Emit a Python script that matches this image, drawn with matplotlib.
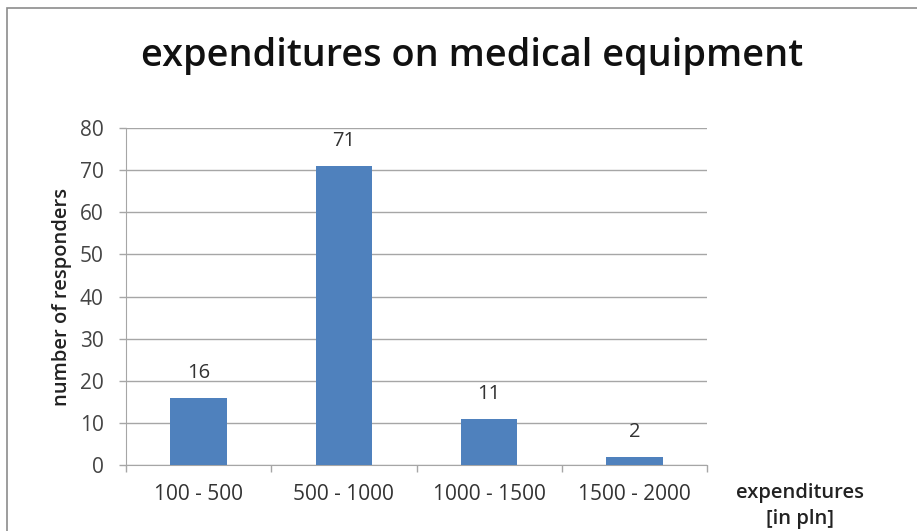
import matplotlib
matplotlib.use("Agg")
import matplotlib.pyplot as plt
from matplotlib.patches import Rectangle

categories = ["100 - 500", "500 - 1000", "1000 - 1500", "1500 - 2000"]
responders = [16, 71, 11, 2]

plt.rcParams["font.family"] = ["Open Sans", "DejaVu Sans"]

fig = plt.figure(figsize=(9.17, 5.31), dpi=100)

# outer chart border
fig.patches.append(Rectangle((7 / 917, -0.01), 1.0, 1 - 8 / 531 + 0.01,
                             transform=fig.transFigure, fill=False,
                             edgecolor="#8c8c8c", linewidth=1.2))

ax = fig.add_axes([126 / 917, 1 - 465 / 531, 581 / 917, 337 / 531])

x = list(range(len(categories)))
ax.bar(x, responders, width=0.39, color="#4F81BD", zorder=3)

for xi, v in zip(x, responders):
    ax.annotate(str(v), (xi, v), xytext=(0, 18), textcoords="offset points",
                ha="center", va="center", fontsize=14.5, color="#333333")

ax.set_xlim(-0.5, 3.5)
ax.set_ylim(0, 80)
ax.set_yticks(range(0, 81, 10))
ax.set_xticks(x)
ax.set_xticklabels(categories)
ax.set_xticks([i - 0.5 for i in range(len(categories) + 1)], minor=True)

ax.grid(axis="y", color="#a6a6a6", linewidth=1.0, zorder=0)
ax.tick_params(axis="y", length=5, width=1, color="#a6a6a6", pad=11,
               labelsize=15, labelcolor="#444444")
ax.tick_params(axis="x", which="major", length=0, pad=14,
               labelsize=15, labelcolor="#333333")
ax.tick_params(axis="x", which="minor", length=5, width=1, color="#a6a6a6")

for side in ["top", "right"]:
    ax.spines[side].set_visible(False)
for side in ["left", "bottom"]:
    ax.spines[side].set_color("#a6a6a6")

ax.set_ylabel("number of responders", fontsize=14.5, fontweight="semibold",
              color="#222222", labelpad=6)

fig.text(800 / 917, 1 - 506 / 531, "expenditures\n[in pln]", ha="center",
         va="center", fontsize=14.5, fontweight="semibold", color="#222222",
         linespacing=1.4)

fig.text(472 / 917, 1 - 56 / 531, "expenditures on medical equipment",
         ha="center", va="center", fontsize=27.3, fontweight="semibold",
         color="#111111")

fig.savefig("out.png", dpi=100)
